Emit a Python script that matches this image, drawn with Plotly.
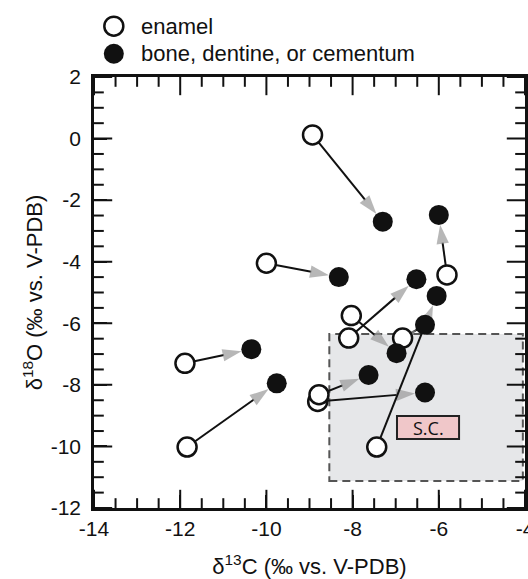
import numpy as np
import plotly.graph_objects as go

# enamel (open) -> bone/dentine/cementum (filled) pairs
enamel_x = [-8.93, -10.00, -11.89, -11.84, -8.81, -8.78, -7.44, -6.84, -8.03, -8.09, -5.81]
enamel_y = [0.12, -4.05, -7.30, -10.02, -8.54, -8.32, -10.02, -6.48, -5.75, -6.48, -4.43]
bone_x = [-7.30, -8.32, -10.35, -9.76, -6.32, -7.63, -6.05, -6.32, -6.98, -6.52, -6.00]
bone_y = [-2.70, -4.50, -6.84, -7.95, -8.25, -7.68, -5.11, -6.05, -6.97, -4.57, -2.48]

x_ticks = [-14, -12, -10, -8, -6, -4]
y_ticks = [-12, -10, -8, -6, -4, -2, 0, 2]
x_range = [-14, -4]
y_range = [-12, 2]
minor_step = 0.5

FONT = "Arial, Liberation Sans, sans-serif"

fig = go.Figure()

# tick marks on all four sides (half of each marker is clipped by the plot area -> inside ticks)
x_minor = [v for v in np.arange(x_range[0], x_range[1] + 1e-9, minor_step) if v not in x_ticks]
y_minor = [v for v in np.arange(y_range[0], y_range[1] + 1e-9, minor_step) if v not in y_ticks]
for vals, size in ((x_ticks, 26), (x_minor, 14)):
    for edge in y_range:
        fig.add_trace(go.Scatter(
            x=list(vals), y=[edge] * len(vals), mode="markers", cliponaxis=True,
            marker=dict(symbol="line-ns", size=size, line=dict(width=2, color="#111111")),
            showlegend=False, hoverinfo="skip"))
for vals, size in ((y_ticks, 26), (y_minor, 14)):
    for edge in x_range:
        fig.add_trace(go.Scatter(
            x=[edge] * len(vals), y=list(vals), mode="markers", cliponaxis=True,
            marker=dict(symbol="line-ew", size=size, line=dict(width=2, color="#111111")),
            showlegend=False, hoverinfo="skip"))

# connecting lines with grey arrowheads
for ex, ey, bx, by in zip(enamel_x, enamel_y, bone_x, bone_y):
    fig.add_trace(go.Scatter(
        x=[ex, bx], y=[ey, by], mode="lines+markers",
        line=dict(color="#111111", width=2),
        marker=dict(symbol="arrow", size=[0, 20], color="#999999",
                    angleref="previous", standoff=10, line=dict(width=0)),
        showlegend=False, hoverinfo="skip"))

# enamel open circles
fig.add_trace(go.Scatter(
    x=enamel_x, y=enamel_y, mode="markers",
    marker=dict(symbol="circle", size=19, color="white",
                line=dict(color="#111111", width=2.5)),
    showlegend=False))

# bone filled circles
fig.add_trace(go.Scatter(
    x=bone_x, y=bone_y, mode="markers",
    marker=dict(symbol="circle", size=20, color="#111111", line=dict(width=0)),
    showlegend=False))

shapes = [
    dict(type="rect", xref="x", yref="y", x0=-8.54, x1=-4.05, y0=-11.12, y1=-6.35,
         fillcolor="#e6e7e9", line=dict(color="#555555", width=2, dash="8px,5px"),
         layer="below"),
    dict(type="rect", xref="x", yref="y", x0=-6.97, x1=-5.53, y0=-9.76, y1=-9.01,
         fillcolor="#f0c7c9", line=dict(color="#222222", width=2)),
    dict(type="circle", xref="paper", yref="paper", xsizemode="pixel", ysizemode="pixel",
         xanchor=0.046, yanchor=1.118, x0=-9.5, x1=9.5, y0=-9.5, y1=9.5,
         fillcolor="white", line=dict(color="#111111", width=2.5)),
    dict(type="circle", xref="paper", yref="paper", xsizemode="pixel", ysizemode="pixel",
         xanchor=0.046, yanchor=1.054, x0=-10, x1=10, y0=-10, y1=10,
         fillcolor="#111111", line=dict(width=0)),
]

annotations = [
    dict(x=-6.25, y=-9.385, xref="x", yref="y", text="S.C.", showarrow=False,
         font=dict(family="Open Sans, sans-serif", size=18, color="#111111")),
    dict(x=0.104, y=1.118, xref="paper", yref="paper", text="enamel", showarrow=False,
         xanchor="left", yanchor="middle", font=dict(family=FONT, size=22, color="#111111")),
    dict(x=0.104, y=1.054, xref="paper", yref="paper", text="bone, dentine, or cementum",
         showarrow=False, xanchor="left", yanchor="middle",
         font=dict(family=FONT, size=22, color="#111111")),
]

axis_common = dict(
    showline=True, linecolor="#111111", linewidth=2.5, mirror=True,
    ticks="inside", ticklen=13, tickwidth=2, tickcolor="#111111",
    showgrid=False, zeroline=False, ticklabeloverflow="allow", automargin=False,
    tickfont=dict(family=FONT, size=21, color="#111111"),
)

fig.update_layout(
    width=528, height=579,
    margin=dict(l=94, r=3, t=77, b=71),
    plot_bgcolor="white", paper_bgcolor="white",
    shapes=shapes, annotations=annotations,
    xaxis=dict(range=x_range, tickvals=x_ticks, ticktext=[str(v) for v in x_ticks],
               title=dict(text="δ<sup>13</sup>C (‰ vs. V-PDB)",
                          font=dict(family=FONT, size=22, color="#111111"), standoff=20),
               **axis_common),
    yaxis=dict(range=y_range, tickvals=y_ticks, ticktext=[str(v) for v in y_ticks],
               title=dict(text="δ<sup>18</sup>O (‰ vs. V-PDB)",
                          font=dict(family=FONT, size=22, color="#111111"), standoff=2),
               ticklabelstandoff=6, **axis_common),
)

fig.write_html("out.html")
